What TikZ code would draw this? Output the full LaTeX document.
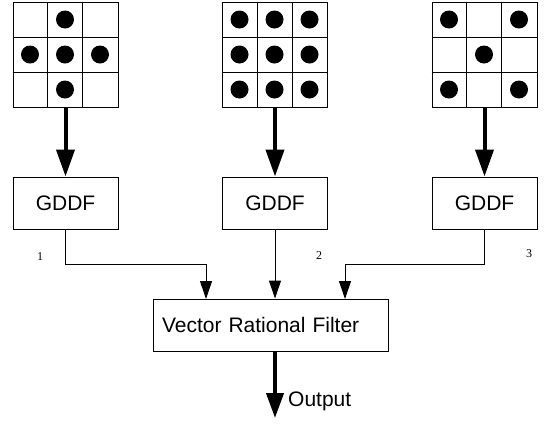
\documentclass[tikz,border=0pt]{standalone}
\usepackage{fontspec}
\setmainfont{Liberation Sans}
\newfontfamily\labfont{Liberation Serif}
\usetikzlibrary{arrows.meta,calc}
\begin{document}
\begin{tikzpicture}[x=1pt,y=-1pt,
  gridbox/.style={draw,line width=1pt,minimum width=105pt,minimum height=105pt,inner sep=0pt},
  box/.style={draw,line width=1pt,minimum width=105pt,minimum height=52pt,inner sep=0pt,font=\fontsize{21}{21}\selectfont},
  bigarrow/.style={line width=4pt,-{Triangle[width=18pt,length=27pt]}},
  smallarrow/.style={line width=1pt,-{Triangle[width=12pt,length=18pt]}},
  dotmark/.style={fill=black,circle,inner sep=0pt,minimum size=18pt},
  lab/.style={font=\labfont\fontsize{12}{12}\selectfont,inner sep=0pt}]
\useasboundingbox (0,0) rectangle (545,424);

% grids
\node[gridbox] (g1) at (65.5,55) {};
\node[gridbox] (g2) at (275,55) {};
\node[gridbox] (g3) at (484.5,55) {};
\foreach \g in {g1,g2,g3}{
  \draw[line width=1pt] (\g.north west) ++(35,0) -- ++(0,105);
  \draw[line width=1pt] (\g.north west) ++(70,0) -- ++(0,105);
  \draw[line width=1pt] (\g.north west) ++(0,35) -- ++(105,0);
  \draw[line width=1pt] (\g.north west) ++(0,70) -- ++(105,0);
}
\foreach \c/\r in {1/0,0/1,1/1,2/1,1/2}
  \node[dotmark] at ($(g1.north west)+(17.5+35*\c,17.5+35*\r)$) {};
\foreach \c in {0,1,2}
  \foreach \r in {0,1,2}
    \node[dotmark] at ($(g2.north west)+(17.5+35*\c,17.5+35*\r)$) {};
\foreach \c/\r in {0/0,2/0,1/1,0/2,2/2}
  \node[dotmark] at ($(g3.north west)+(17.5+35*\c,17.5+35*\r)$) {};

% GDDF boxes
\node[box] (b1) at (65.5,203) {GDDF};
\node[box] (b2) at (275,203) {GDDF};
\node[box] (b3) at (484.5,203) {GDDF};

\draw[bigarrow] (g1.south) -- (b1.north);
\draw[bigarrow] (g2.south) -- (b2.north);
\draw[bigarrow] (g3.south) -- (b3.north);

% filter
\node[draw,line width=1pt,minimum height=52pt,text width=217pt,inner xsep=9pt,inner ysep=0pt,align=left,font=\fontsize{21}{21}\selectfont] (vrf) at (270.5,325) {Vector Rational Filter};

\coordinate (in1) at (206,299);
\coordinate (in3) at (345,299);
\draw[smallarrow] (b1.south) -- ++(0,35) -| (in1);
\draw[smallarrow] (b2.south) -- (b2.south |- vrf.north);
\draw[smallarrow] (b3.south) -- ++(0,35) -| (in3);

% labels
\node[lab] (l1) at (40,257) {1};
\node[lab] (l2) at (319,256) {2};
\node[lab] (l3) at (529,254) {3};

% output
\coordinate (outend) at (275,418);
\draw[bigarrow,-{Triangle[width=17pt,length=25pt]}] (vrf.south -| outend) -- (outend);
\node[anchor=west,inner sep=0pt,font=\fontsize{21}{21}\selectfont] (out) at (288,401) {Output};
\end{tikzpicture}
\end{document}
